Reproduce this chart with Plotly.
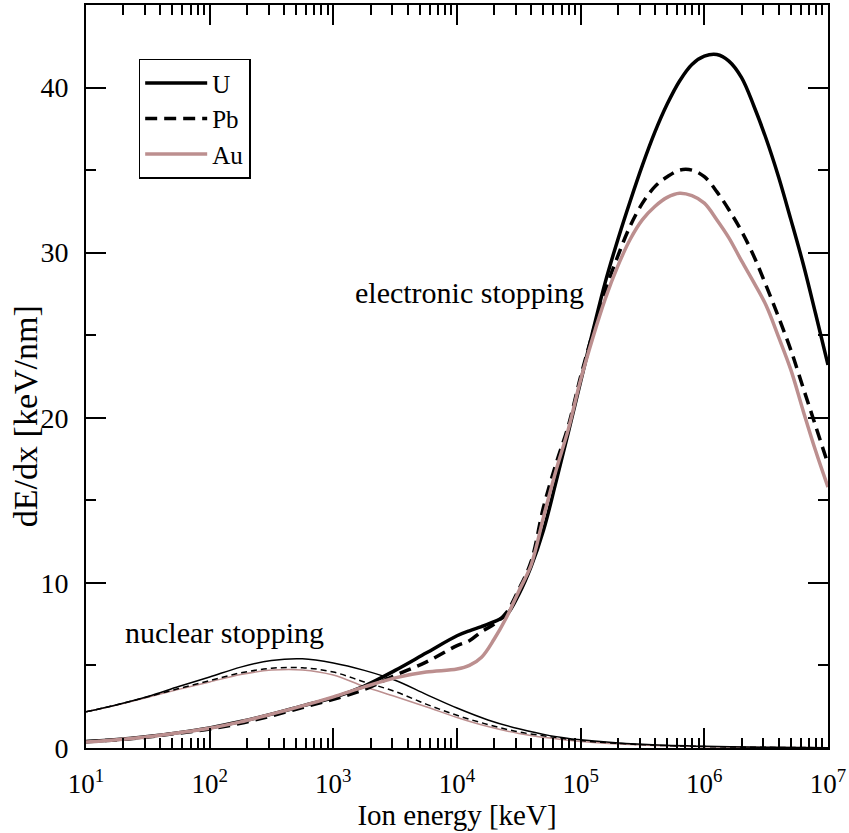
import plotly.graph_objects as go

# ---------------- data ----------------
# Electronic stopping (thick curves)
E_el = [10, 17.8, 31.6, 56.2, 100, 178, 316, 562, 1000, 1780, 3160, 5620,
        10000, 12600, 15800, 20000, 25100, 31600, 39800, 50100, 63100, 79400,
        1.0e5, 1.26e5, 1.58e5, 2.0e5, 2.51e5, 3.16e5, 3.98e5, 5.01e5, 6.31e5, 7.94e5,
        1.0e6, 1.26e6, 1.58e6, 2.0e6, 2.51e6, 3.16e6, 3.98e6, 5.01e6, 6.31e6, 7.94e6, 1.0e7]

U_el = [0.40, 0.52, 0.70, 0.93, 1.22, 1.60, 2.05, 2.55, 3.05, 3.75, 4.70, 5.75,
        6.80, 7.10, 7.35, 7.65, 8.05, 9.30, 11.0, 13.2, 16.1, 19.1,
        22.2, 25.3, 28.2, 30.8, 33.1, 35.3, 37.3, 39.0, 40.4, 41.4,
        41.9, 42.0, 41.6, 40.6, 38.9, 36.9, 34.6, 32.0, 29.3, 26.3, 23.2]

Pb_el = [0.38, 0.50, 0.67, 0.90, 1.15, 1.50, 1.95, 2.45, 2.95, 3.55, 4.40, 5.20,
         6.20, 6.50, 7.05, 7.50, 8.20, 9.60, 11.3, 14.6, 17.2, 19.5,
         22.5, 25.2, 27.7, 29.8, 31.6, 33.0, 34.0, 34.6, 35.0, 35.0,
         34.6, 33.7, 32.6, 31.3, 29.8, 28.0, 26.1, 24.1, 21.8, 19.5, 17.2]

Au_el = [0.36, 0.50, 0.68, 0.92, 1.20, 1.58, 2.05, 2.55, 3.10, 3.70, 4.25, 4.60,
         4.78, 5.00, 5.50, 6.60, 7.90, 9.50, 11.1, 14.0, 16.8, 19.3,
         22.3, 24.9, 27.2, 29.2, 30.8, 32.0, 32.8, 33.35, 33.6, 33.45,
         33.0, 32.0, 30.9, 29.5, 28.2, 26.8, 24.9, 22.9, 20.4, 18.0, 15.8]

# Nuclear stopping (thin curves)
E_nu = [10, 17.8, 31.6, 56.2, 100, 178, 316, 562, 1000, 1780, 3160, 5620,
        10000, 17800, 31600, 56200, 1.0e5, 3.16e5, 1.0e6, 3.16e6, 1.0e7]

U_nu = [2.19, 2.62, 3.12, 3.72, 4.30, 4.90, 5.30, 5.40, 5.15, 4.70, 4.10, 3.25,
        2.42, 1.70, 1.16, 0.75, 0.50, 0.22, 0.10, 0.04, 0.02]

Pb_nu = [2.19, 2.62, 3.10, 3.60, 4.08, 4.55, 4.83, 4.86, 4.60, 4.00, 3.42, 2.66,
         1.98, 1.42, 0.97, 0.69, 0.45, 0.20, 0.09, 0.04, 0.02]

Au_nu = [2.19, 2.60, 3.07, 3.55, 4.00, 4.45, 4.72, 4.73, 4.42, 3.72, 3.12, 2.50,
         1.85, 1.30, 0.88, 0.60, 0.40, 0.18, 0.08, 0.03, 0.01]

x_tickvals = [1e1, 1e2, 1e3, 1e4, 1e5, 1e6, 1e7]
x_ticktext = ["10<sup>1</sup>", "10<sup>2</sup>", "10<sup>3</sup>", "10<sup>4</sup>",
              "10<sup>5</sup>", "10<sup>6</sup>", "10<sup>7</sup>"]
y_tickvals = [0, 10, 20, 30, 40]

# ---------------- styling ----------------
FONT = "Liberation Serif"
BLACK = "black"
ROSY = "#bc8f8f"
THICK = 3.5
THIN = 1.5

fig = go.Figure()

# nuclear stopping (thin)
fig.add_trace(go.Scatter(x=E_nu, y=Au_nu, mode="lines", showlegend=False,
                         line=dict(color=ROSY, width=THIN), line_shape="spline"))
fig.add_trace(go.Scatter(x=E_nu, y=Pb_nu, mode="lines", showlegend=False,
                         line=dict(color=BLACK, width=THIN, dash="6px,4px"), line_shape="spline"))
fig.add_trace(go.Scatter(x=E_nu, y=U_nu, mode="lines", showlegend=False,
                         line=dict(color=BLACK, width=THIN), line_shape="spline"))

# electronic stopping (thick)
fig.add_trace(go.Scatter(x=E_el, y=U_el, mode="lines", name="U",
                         line=dict(color=BLACK, width=THICK), line_shape="spline"))
fig.add_trace(go.Scatter(x=E_el, y=Pb_el, mode="lines", name="Pb",
                         line=dict(color=BLACK, width=THICK, dash="12px,7px"), line_shape="spline"))
fig.add_trace(go.Scatter(x=E_el, y=Au_el, mode="lines", name="Au",
                         line=dict(color=ROSY, width=THICK), line_shape="spline"))

minor_x = []
for d in range(1, 7):
    for m in range(2, 10):
        minor_x.append(m * 10 ** d)

fig.update_xaxes(
    type="log", range=[1, 7],
    tickmode="array", tickvals=x_tickvals, ticktext=x_ticktext,
    ticks="inside", ticklen=20, tickwidth=2, tickcolor=BLACK,
    minor=dict(tickmode="array", tickvals=minor_x, ticks="inside", ticklen=10,
               tickwidth=2, tickcolor=BLACK, showgrid=False),
    showline=True, linecolor=BLACK, linewidth=2, mirror="allticks",
    showgrid=False, zeroline=False,
    tickfont=dict(family=FONT, size=27, color=BLACK),
    ticklabelstandoff=11, ticklabeloverflow="allow",
    title=dict(text="Ion energy [keV]", font=dict(family=FONT, size=29, color=BLACK), standoff=6),
)
fig.update_yaxes(
    range=[0, 45],
    tickmode="array", tickvals=y_tickvals,
    ticks="inside", ticklen=20, tickwidth=2, tickcolor=BLACK,
    minor=dict(dtick=5, tick0=0, ticks="inside", ticklen=10, tickwidth=2,
               tickcolor=BLACK, showgrid=False),
    showline=True, linecolor=BLACK, linewidth=2, mirror="allticks",
    showgrid=False, zeroline=False,
    tickfont=dict(family=FONT, size=28, color=BLACK),
    ticklabelstandoff=10,
)

fig.add_annotation(text="dE/dx [keV/nm]", textangle=-90, xref="paper", yref="paper",
                   x=-0.0805, y=0.447, xanchor="center", yanchor="middle", showarrow=False,
                   font=dict(family=FONT, size=34, color=BLACK))
fig.add_annotation(text="electronic stopping", x=5.04, y=27.6, xref="x", yref="y",
                   xanchor="right", yanchor="middle", showarrow=False,
                   font=dict(family=FONT, size=30, color=BLACK))
fig.add_annotation(text="nuclear stopping", x=1.3, y=7.0, xref="x", yref="y",
                   xanchor="left", yanchor="middle", showarrow=False,
                   font=dict(family=FONT, size=30, color=BLACK))

fig.update_layout(
    width=849, height=833,
    margin=dict(l=86, r=18, t=3, b=85),
    paper_bgcolor="white", plot_bgcolor="white",
    font=dict(family=FONT, color=BLACK),
    legend=dict(x=0.071, y=0.9275, xanchor="left", yanchor="top",
                bordercolor=BLACK, borderwidth=1.5, bgcolor="white",
                font=dict(family=FONT, size=25, color=BLACK),
                itemwidth=62, tracegroupgap=0),
)

fig.write_html("out.html")
